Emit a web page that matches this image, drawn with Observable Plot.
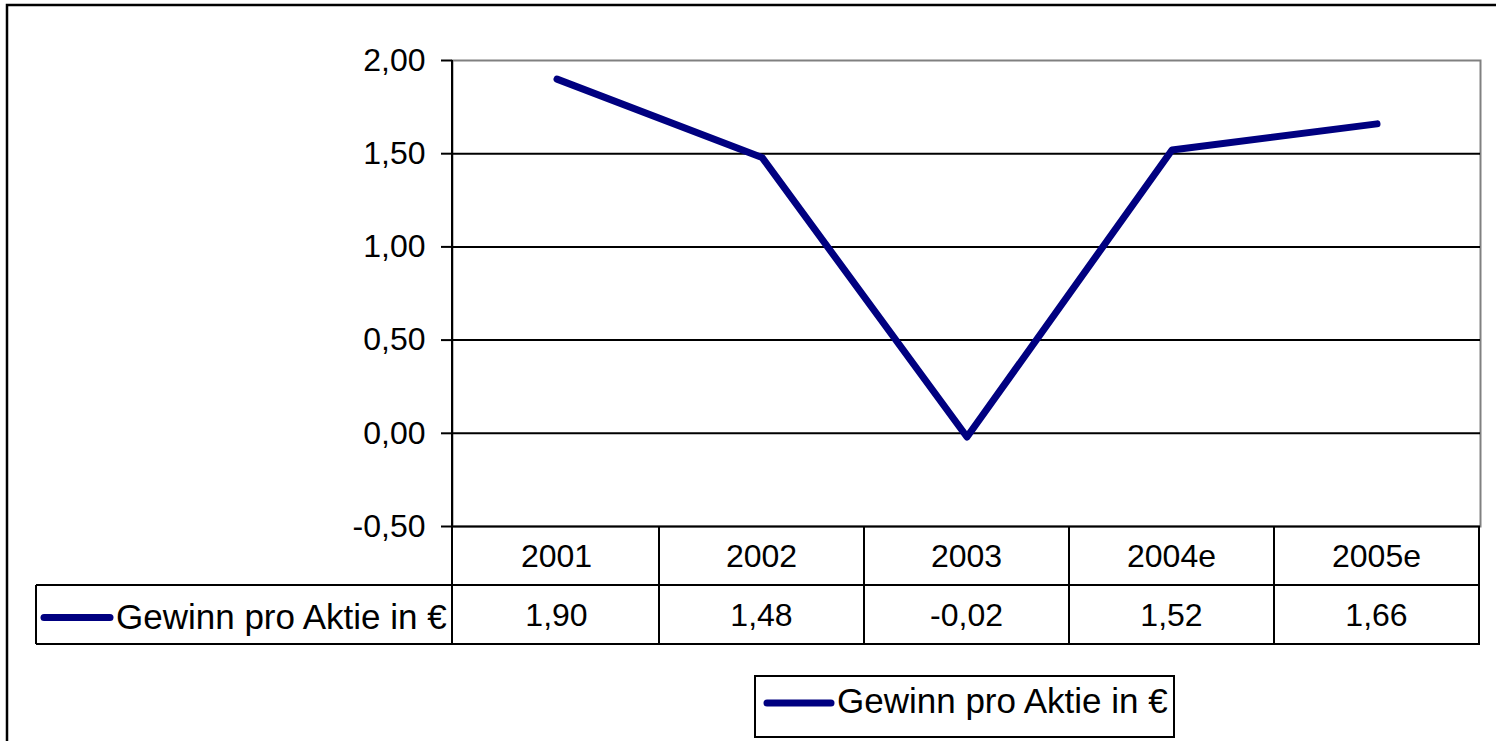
<!DOCTYPE html>
<html><head><meta charset="utf-8">
<script src="https://cdn.jsdelivr.net/npm/d3@7"></script>
<script src="https://cdn.jsdelivr.net/npm/@observablehq/plot@0.6"></script>
<style>html,body{margin:0;padding:0;background:#fff} svg{display:block}</style>
</head><body><div id="chart"></div>
<script>
const years = ["2001", "2002", "2003", "2004e", "2005e"];
const eps = [1.90, 1.48, -0.02, 1.52, 1.66];
const yTicks = [-0.5, 0, 0.5, 1, 1.5, 2];
const seriesName = "Gewinn pro Aktie in €";

const de = d3.formatLocale({decimal: ",", thousands: ".", grouping: [3], currency: ["", " €"], minus: "-"});
const fmt = de.format(".2f");
const data = years.map((year, i) => ({year, value: eps[i]}));

const FONT = "'Liberation Sans', Arial, sans-serif";
const FS = 32;
const LFS = 35;
const NAVY = "#000080";

const plot = Plot.plot({
  width: 1496, height: 741,
  marginLeft: 452, marginRight: 16, marginTop: 60, marginBottom: 215,
  style: {fontFamily: FONT, fontSize: FS + "px", background: "#fff", color: "#000", overflow: "visible"},
  x: {type: "band", domain: years, padding: 0, axis: null},
  y: {domain: [-0.5, 2]},
  marks: [
    Plot.frame({stroke: "#808080", strokeWidth: 2}),
    Plot.ruleY(yTicks.filter(d => d < 2), {stroke: "#000", strokeWidth: 2}),
    Plot.axisY(yTicks, {tickSize: 11, tickPadding: 16, tickFormat: fmt, label: null, stroke: "#000", strokeWidth: 2, fill: "#000", fontSize: FS}),
    Plot.line(data, {x: "year", y: "value", stroke: NAVY, strokeWidth: 7, strokeLinecap: "round", strokeLinejoin: "round"})
  ]
});

document.getElementById("chart").appendChild(plot);

// Data table + legend drawn from the plot's own scales
const svg = d3.select(plot);
const xs = plot.scale("x");
const ys = plot.scale("y");
const bw = xs.bandwidth;
const [xL, xR] = xs.range;
const rowH = 59;
const r0 = ys.apply(-0.5);
const r1 = r0 + rowH;
const r2 = r1 + rowH;
const headL = 36;

const g = svg.append("g").attr("font-family", FONT).attr("font-size", FS).attr("fill", "#000");

// left axis line (extends into table)
g.append("line").attr("x1", xL).attr("x2", xL).attr("y1", ys.apply(2)).attr("y2", r2).attr("stroke", "#000").attr("stroke-width", 2);

// vertical separators
for (const y of years) {
  const b = xs.apply(y) + bw;
  g.append("line").attr("x1", b).attr("x2", b).attr("y1", r0).attr("y2", r2).attr("stroke", "#000").attr("stroke-width", 2);
}
g.append("line").attr("x1", headL).attr("x2", headL).attr("y1", r1).attr("y2", r2).attr("stroke", "#000").attr("stroke-width", 2);
for (const yy of [r1, r2]) {
  g.append("line").attr("x1", headL).attr("x2", xR).attr("y1", yy).attr("y2", yy).attr("stroke", "#000").attr("stroke-width", 2);
}

// category labels and values
years.forEach((y, i) => {
  const cx = xs.apply(y) + bw / 2;
  g.append("text").attr("x", cx).attr("y", (r0 + r1) / 2).attr("dy", "0.35em").attr("text-anchor", "middle").text(y);
  g.append("text").attr("x", cx).attr("y", (r1 + r2) / 2).attr("dy", "0.35em").attr("text-anchor", "middle").text(fmt(eps[i]));
});

// row legend key
const rk = (r1 + r2) / 2 + 3;
g.append("line").attr("x1", 44).attr("x2", 110).attr("y1", rk).attr("y2", rk).attr("stroke", NAVY).attr("stroke-width", 7).attr("stroke-linecap", "round");
g.append("text").attr("x", 116).attr("y", (r1 + r2) / 2 + 2).attr("dy", "0.35em").attr("text-anchor", "start").attr("font-size", LFS).text(seriesName);

// bottom legend box
const lg = {x: 755, y: 676, w: 419, h: 61};
g.append("rect").attr("x", lg.x).attr("y", lg.y).attr("width", lg.w).attr("height", lg.h).attr("fill", "#fff").attr("stroke", "#000").attr("stroke-width", 2);
g.append("line").attr("x1", lg.x + 12).attr("x2", lg.x + 76).attr("y1", lg.y + 27).attr("y2", lg.y + 27).attr("stroke", NAVY).attr("stroke-width", 7).attr("stroke-linecap", "round");
g.append("text").attr("x", lg.x + 82).attr("y", lg.y + 25).attr("dy", "0.35em").attr("text-anchor", "start").attr("font-size", LFS).text(seriesName);

// outer chart frame
svg.append("rect").attr("x", 7).attr("y", 5).attr("width", 1560).attr("height", 800).attr("fill", "none").attr("stroke", "#000").attr("stroke-width", 2.5);
</script>
</body></html>
